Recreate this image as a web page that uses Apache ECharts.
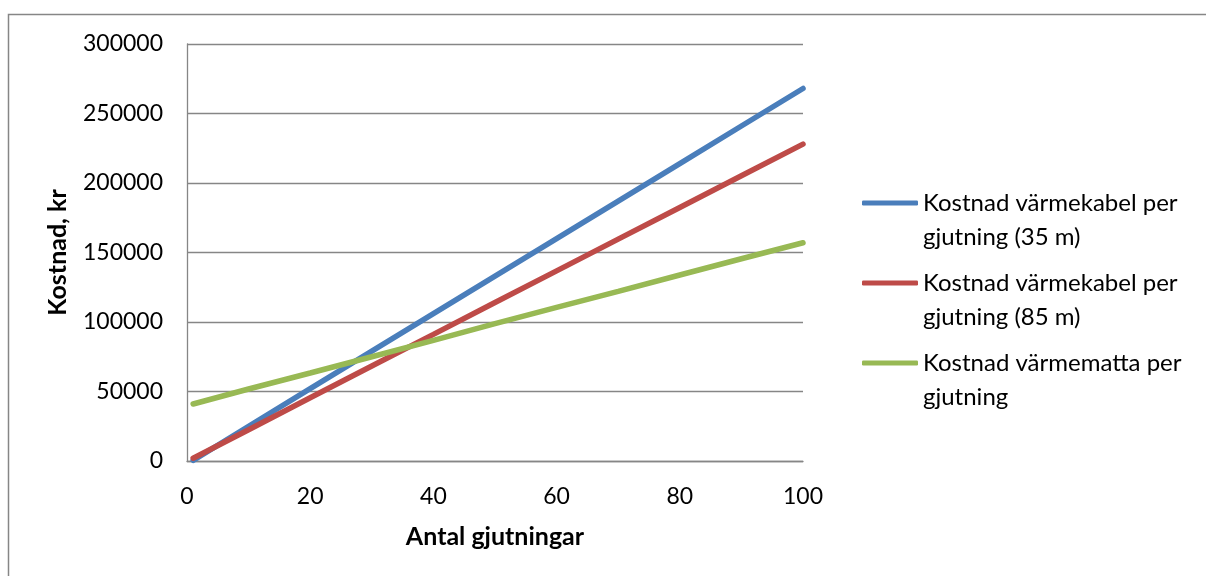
<!DOCTYPE html>
<html>
<head>
<meta charset="utf-8">
<script src="https://cdn.jsdelivr.net/npm/echarts@6/dist/echarts.min.js"></script>
<style>
  html, body { margin: 0; padding: 0; background: #fff; }
  #chart { width: 1206px; height: 576px; }
</style>
</head>
<body>
<div id="chart"></div>
<script>
// Number of castings (x) and cost in kr for each heating method
const antal = [1, 10, 20, 30, 40, 50, 60, 70, 80, 90, 100];
const kabel35 = [500, 25000, 52000, 79000, 106000, 133000, 160000, 187000, 214000, 241000, 268000];
const kabel85 = [2000, 22500, 45500, 68300, 91100, 114000, 136800, 159600, 182400, 205200, 228000];
const matta = [41000, 51800, 63300, 75000, 86800, 98800, 110500, 122000, 133800, 145500, 157000];

const seriesNames = [
  'Kostnad värmekabel per\ngjutning (35 m)',
  'Kostnad värmekabel per\ngjutning (85 m)',
  'Kostnad värmematta per\ngjutning'
];
const yTicks = { min: 0, max: 300000, interval: 50000 };
const xTicks = { min: 0, max: 100, interval: 20 };

const FONT = 'Lato';
const GRAY = '#868686';

const pairs = (ys) => antal.map((x, i) => [x, ys[i]]);

const mkLine = (name, ys, color) => ({
  name,
  type: 'line',
  data: pairs(ys),
  showSymbol: false,
  symbol: 'none',
  lineStyle: { color, width: 5.5, cap: 'round' },
  itemStyle: { color },
  animation: false
});

const chart = echarts.init(document.getElementById('chart'), null, { renderer: 'canvas' });
chart.setOption({
  backgroundColor: '#fff',
  animation: false,
  textStyle: { fontFamily: FONT },
  graphic: [{
    type: 'rect',
    shape: { x: 8.5, y: 14.5, width: 1300, height: 700 },
    style: { fill: 'none', stroke: GRAY, lineWidth: 1.5 },
    silent: true,
    z: -10
  }],
  grid: { left: 187, right: 403, top: 44, bottom: 115, containLabel: false },
  xAxis: {
    type: 'value',
    min: xTicks.min, max: xTicks.max, interval: xTicks.interval,
    name: 'Antal gjutningar',
    nameLocation: 'middle',
    nameGap: 63,
    nameTextStyle: { fontFamily: FONT, fontSize: 25, fontWeight: 'bold', color: '#000' },
    axisLine: { show: true, lineStyle: { color: GRAY, width: 1.3 } },
    axisTick: { show: false },
    splitLine: { show: false },
    axisLabel: { fontFamily: FONT, fontSize: 23, color: '#000', margin: 24 }
  },
  yAxis: {
    type: 'value',
    min: yTicks.min, max: yTicks.max, interval: yTicks.interval,
    name: 'Kostnad, kr',
    nameLocation: 'middle',
    nameGap: 117,
    nameRotate: 90,
    nameTextStyle: { fontFamily: FONT, fontSize: 25, fontWeight: 'bold', color: '#000' },
    axisLine: { show: true, lineStyle: { color: GRAY, width: 1.3 } },
    axisTick: { show: false },
    splitLine: { show: true, lineStyle: { color: GRAY, width: 1.3 } },
    axisLabel: {
      fontFamily: FONT, fontSize: 23, color: '#000', margin: 24,
      formatter: (v) => String(v)
    }
  },
  legend: {
    orient: 'vertical',
    left: 862,
    top: 152,
    padding: 0,
    itemWidth: 56,
    itemHeight: 5,
    itemGap: -22,
    icon: 'roundRect',
    selectedMode: false,
    data: seriesNames,
    // a leading blank line keeps the first text line level with the swatch
    formatter: (name) => ' \n' + name,
    textStyle: { fontFamily: FONT, fontSize: 24, color: '#000', lineHeight: 34 }
  },
  series: [
    mkLine(seriesNames[0], kabel35, '#4A7EBB'),
    mkLine(seriesNames[1], kabel85, '#BE4B48'),
    mkLine(seriesNames[2], matta, '#98B954')
  ]
});
</script>
</body>
</html>
